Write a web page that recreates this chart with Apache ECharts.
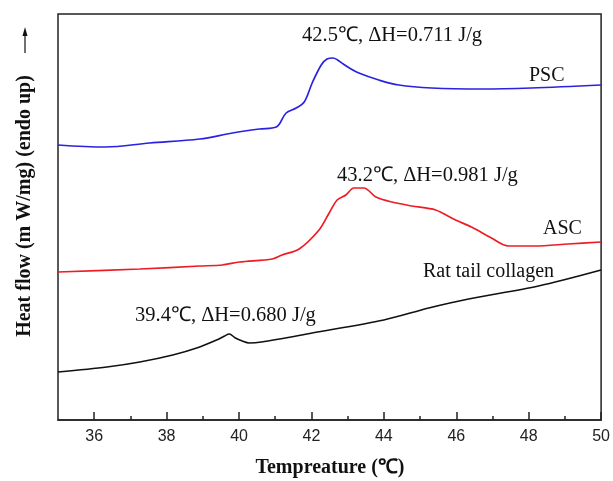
<!DOCTYPE html>
<html><head><meta charset="utf-8">
<script src="https://cdn.jsdelivr.net/npm/echarts@6/dist/echarts.min.js"></script>
<style>html,body{margin:0;padding:0;background:#fff}#c{width:613px;height:481px}</style>
</head><body><div id="c"></div>
<script>
// Temperature (°C) and heat flow (arbitrary units, endo up)
const pscT = [35.0, 36.3, 37.53, 38.91, 39.82, 40.56, 41.03, 41.30, 41.58, 41.80, 42.02, 42.27, 42.43, 42.60, 42.72, 42.88, 43.05, 43.31, 43.86, 44.41, 45.32, 46.70, 48.07, 50.0];
const pscV = [275, 273, 277, 281, 287, 291, 293, 307, 312, 318, 337, 355, 361, 362, 360, 356, 352, 347, 340, 335, 332, 331, 332, 335];

const ascT = [35.0, 37.26, 38.91, 39.54, 40.01, 40.92, 41.19, 41.66, 42.21, 42.49, 42.71, 42.95, 43.17, 43.45, 43.78, 44.22, 44.77, 45.43, 45.98, 46.42, 46.97, 47.44, 48.18, 49.09, 50.0];
const ascV = [148, 151, 154, 155, 158, 161, 165, 171, 190, 207, 220, 225, 232, 232, 223, 218, 214, 210, 200, 193, 182, 174, 174, 176, 178];

const ratT = [35.0, 36.35, 37.26, 38.17, 38.83, 39.38, 39.60, 39.73, 39.90, 40.09, 40.28, 40.62, 42.02, 44.00, 45.24, 46.34, 48.27, 50.0];
const ratV = [48, 53, 58, 65, 72, 80, 84, 86, 82, 79, 77, 78, 87, 100, 112, 121, 134, 150];

const xMajorTicks = [36, 38, 40, 42, 44, 46, 48, 50];
const xMinorTicks = [37, 39, 41, 43, 45, 47, 49];

const seriesNames = ['PSC', 'ASC', 'Rat tail collagen'];
const annotations = ['42.5\u2103, \u0394H=0.711 J/g', '43.2\u2103, \u0394H=0.981 J/g', '39.4\u2103, \u0394H=0.680 J/g'];

const zip = (a, b) => a.map((v, i) => [v, b[i]]);
const serif = '"Liberation Serif", "Times New Roman", serif';

const chart = echarts.init(document.getElementById('c'), null, {renderer: 'canvas'});
const txt = (x, y, text, extra) => Object.assign({
  type: 'text', x: x, y: y, silent: true,
  style: Object.assign({text: text, font: '20px ' + serif, fill: '#111', textAlign: 'left', textVerticalAlign: 'middle'}, extra || {})
});

const yTitle = txt(25, 206, 'Heat flow (m W/mg) (endo up)', {font: 'bold 20px ' + serif, textAlign: 'center'});
yTitle.rotation = Math.PI / 2;

chart.setOption({
  animation: false,
  backgroundColor: '#fff',
  grid: {left: 58, right: 10, top: 14, bottom: 61, show: true, borderColor: '#222', borderWidth: 1.5, backgroundColor: 'transparent'},
  xAxis: [{
    type: 'value', min: 35, max: 50, position: 'bottom',
    axisLine: {show: true, lineStyle: {color: '#222', width: 1.5}},
    axisTick: {show: true, inside: true, length: 8, customValues: xMajorTicks, lineStyle: {color: '#222', width: 1.5}},
    axisLabel: {show: true, customValues: xMajorTicks, margin: 9, color: '#222', fontSize: 16, fontFamily: '"Liberation Sans", Arial, sans-serif'},
    splitLine: {show: false}
  }, {
    type: 'value', min: 35, max: 50, position: 'bottom',
    axisLine: {show: false},
    axisTick: {show: true, inside: true, length: 4, customValues: xMinorTicks, lineStyle: {color: '#222', width: 1.5}},
    axisLabel: {show: false},
    splitLine: {show: false}
  }],
  yAxis: {type: 'value', min: 0, max: 406, show: false, splitLine: {show: false}},
  series: [
    {name: seriesNames[0], type: 'line', data: zip(pscT, pscV), showSymbol: false, smooth: 0.35, lineStyle: {color: '#2a22e0', width: 1.7}},
    {name: seriesNames[1], type: 'line', data: zip(ascT, ascV), showSymbol: false, smooth: 0.3, lineStyle: {color: '#ee1c24', width: 1.7}},
    {name: seriesNames[2], type: 'line', data: zip(ratT, ratV), showSymbol: false, smooth: 0.3, lineStyle: {color: '#111', width: 1.6}}
  ],
  graphic: [
    txt(302, 36, annotations[0], {font: '20.5px ' + serif}),
    txt(529, 76, seriesNames[0]),
    txt(337, 176, annotations[1], {font: '20.5px ' + serif}),
    txt(543, 229, seriesNames[1]),
    txt(423, 272, seriesNames[2]),
    txt(135, 316, annotations[2], {font: '20.5px ' + serif}),
    txt(330, 468, 'Tempreature (\u2103)', {font: 'bold 20px ' + serif, textAlign: 'center'}),
    yTitle,
    {type: 'line', silent: true, shape: {x1: 25, y1: 53, x2: 25, y2: 33}, style: {stroke: '#111', lineWidth: 1.2}},
    {type: 'polygon', silent: true, shape: {points: [[25, 27], [22.5, 36], [27.5, 36]]}, style: {fill: '#111'}}
  ]
});
</script>
</body></html>
